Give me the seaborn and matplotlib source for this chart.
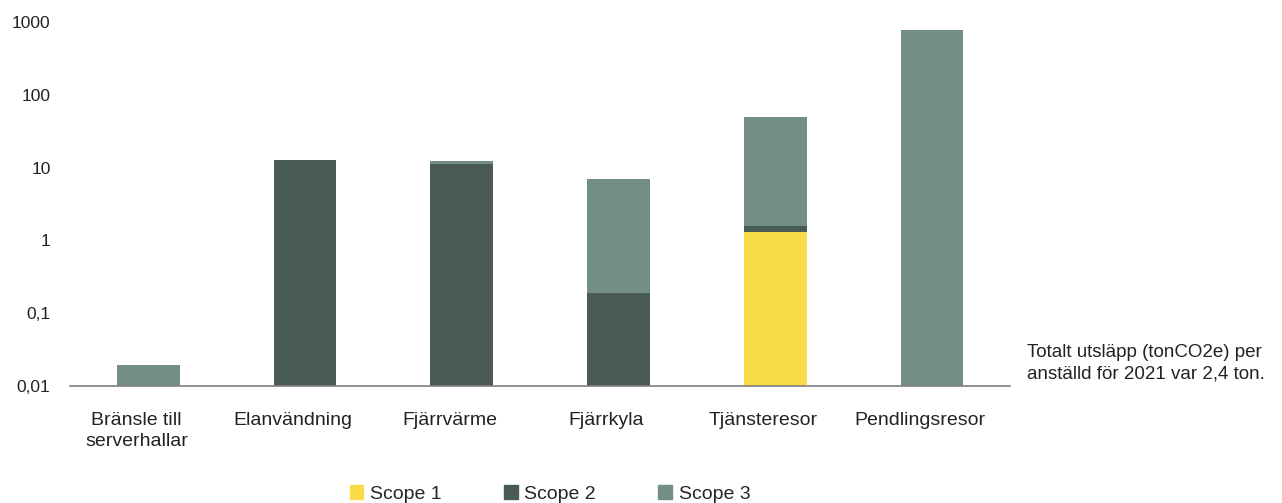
import matplotlib.pyplot as plt
import matplotlib.transforms as mtrans
import numpy as np
import pandas as pd
import seaborn as sns
from matplotlib.patches import Patch
from matplotlib.ticker import FixedLocator

kategorier = ["Bränsle till\nserverhallar", "Elanvändning", "Fjärrvärme",
              "Fjärrkyla", "Tjänsteresor", "Pendlingsresor"]
scope1 = [0, 0, 0, 0, 1.32, 0]
scope2 = [0, 12.7, 11.2, 0.19, 0.26, 0]
scope3 = [0.0195, 0, 1.1, 6.78, 47.4, 776]
ytick_varden = [0.01, 0.1, 1, 10, 100, 1000]
ytick_text = ["0,01", "0,1", "1", "10", "100", "1000"]

farg1 = "#FADC4B"
farg2 = "#4A5A57"
farg3 = "#728E87"

df = pd.DataFrame({"kategori": kategorier, "s1": scope1, "s2": scope2, "s3": scope3})
df["upp1"] = df["s1"]
df["upp2"] = df["s1"] + df["s2"]
df["upp3"] = df["upp2"] + df["s3"]

sns.set_style("white")
plt.rcParams["font.family"] = ["Liberation Sans", "DejaVu Sans"]

fig = plt.figure(figsize=(12.82, 5.03), dpi=100)
ax = fig.add_axes([0.0546, 0.2326, 0.7334, 0.7236])
ax.set_yscale("log")

# staplade staplar: totalen först, sedan delsummorna ovanpå
for kol, farg in [("upp3", farg3), ("upp2", farg2), ("upp1", farg1)]:
    sns.barplot(data=df, x="kategori", y=kol, color=farg, width=0.4,
                saturation=1, ax=ax, order=kategorier, linewidth=0)

ax.set_ylim(0.01, 1000)
ax.set_xlim(-0.5, 5.5)
ax.yaxis.set_major_locator(FixedLocator(ytick_varden))
ax.yaxis.set_minor_locator(FixedLocator([]))
ax.set_yticklabels(ytick_text)
ax.set_xlabel("")
ax.set_ylabel("")
for s in ["top", "right", "left"]:
    ax.spines[s].set_visible(False)
ax.spines["bottom"].set_color("#7f7f7f")
ax.spines["bottom"].set_linewidth(1.2)
ax.tick_params(axis="y", length=0, pad=14, labelsize=12.5, labelcolor="#222222")
ax.tick_params(axis="x", length=0, pad=18.5, labelsize=14, labelcolor="#222222")

# etiketterna sitter lite till vänster om staplarna i originalet
flytt = mtrans.ScaledTranslation(-12 / 100, 0, fig.dpi_scale_trans)
for lbl in ax.get_xticklabels():
    lbl.set_transform(lbl.get_transform() + flytt)
    lbl.set_linespacing(1.3)

handles = [Patch(color=farg1, label="Scope 1"), Patch(color=farg2, label="Scope 2"),
           Patch(color=farg3, label="Scope 3")]
fig.legend(handles=handles, loc="center", bbox_to_anchor=(0.429, 0.018), ncol=3,
           frameon=False, fontsize=14, handlelength=0.7, handleheight=0.7,
           handletextpad=0.35, columnspacing=3.2, borderpad=0)

fig.text(0.801, 0.277, "Totalt utsläpp (tonCO2e) per\nanställd för 2021 var 2,4 ton.",
         fontsize=13.5, color="#222222", va="center", linespacing=1.35)

fig.savefig("out.png", dpi=100)
